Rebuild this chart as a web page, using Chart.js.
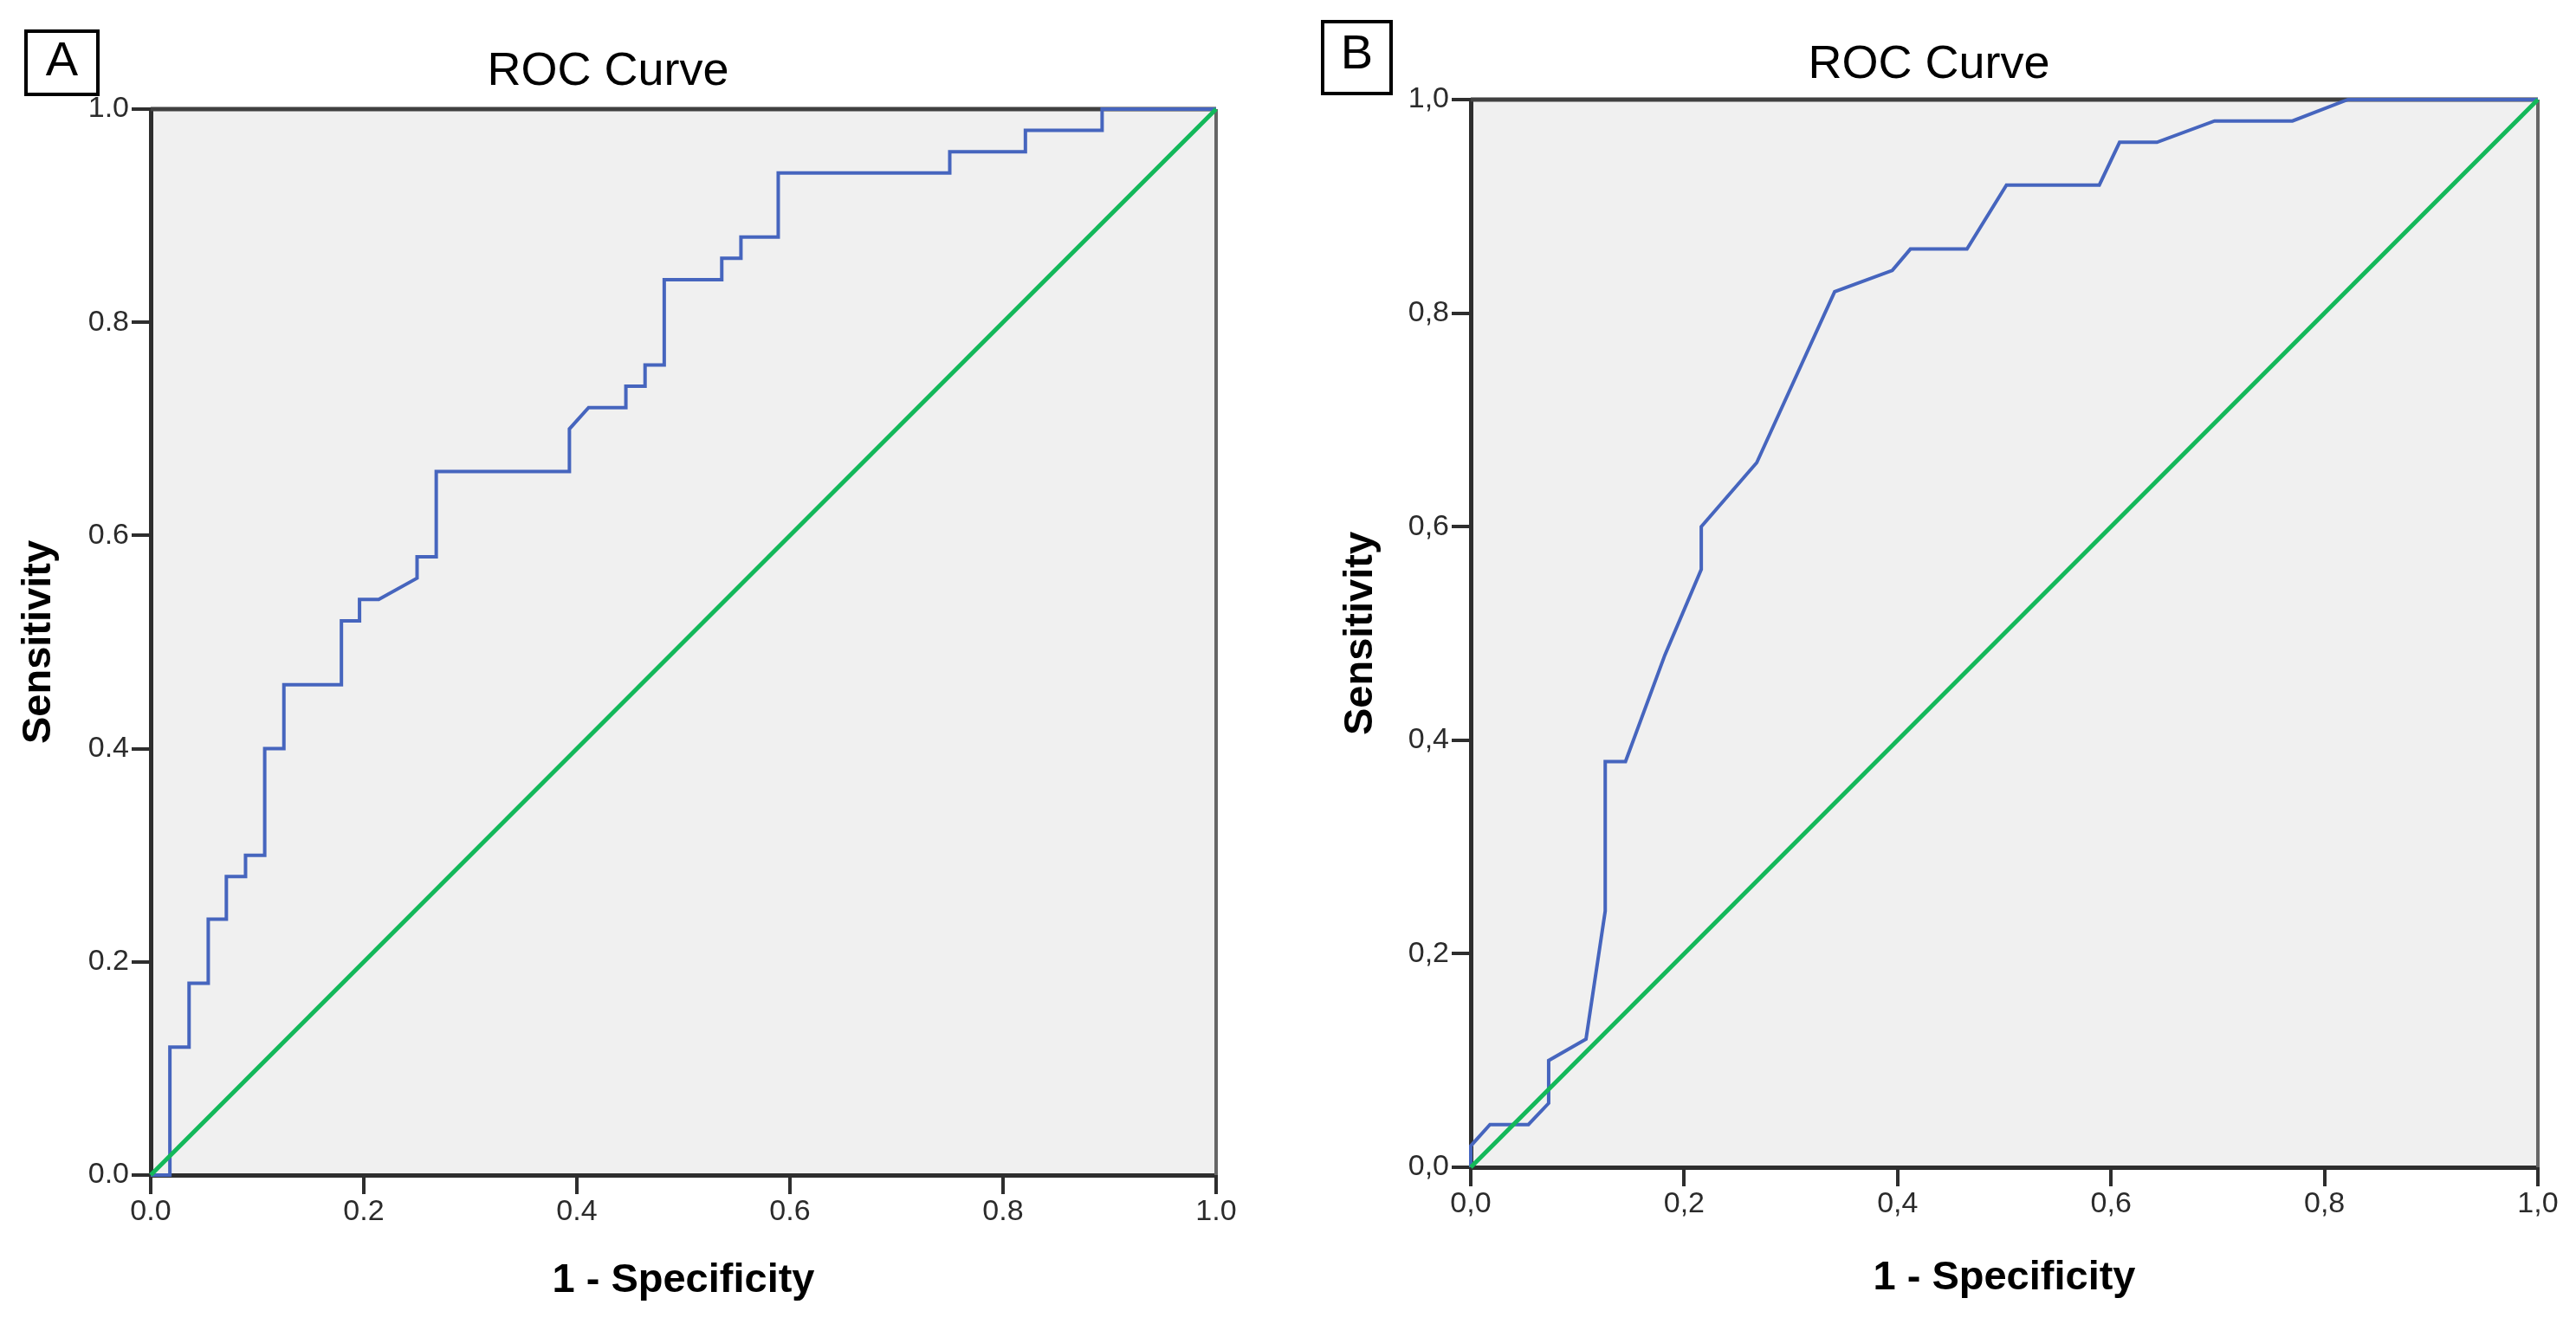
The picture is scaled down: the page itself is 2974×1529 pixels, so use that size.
<!DOCTYPE html>
<html>
<head>
<meta charset="utf-8">
<script src="https://cdn.jsdelivr.net/npm/chart.js@4.4.1/dist/chart.umd.min.js"></script>
<style>
    body { margin: 0; background: #fff; }
    #wrap { position: relative; width: 2974px; height: 1529px; overflow: hidden; }
    canvas { position: absolute; top: 0; }
    .tag {
        position: absolute; box-sizing: border-box; border: 4px solid #000;
        font-family: "Liberation Sans", Arial, sans-serif; font-size: 56px;
        text-align: center; color: #000;
    }
</style>
</head>
<body>
<div id="wrap">
    <canvas id="chartA" width="1487" height="1529" style="left:0"></canvas>
    <canvas id="chartB" width="1487" height="1529" style="left:1487px"></canvas>
    <div class="tag" style="left:28px;top:34px;width:87px;height:77px;line-height:59px">A</div>
    <div class="tag" style="left:1525px;top:23px;width:83px;height:87px;line-height:66px">B</div>
</div>
<script>
// panel A: stepwise ROC (1 - specificity, sensitivity)
const aFpr = [0, 0.018, 0.018, 0.036, 0.036, 0.054, 0.054, 0.071, 0.071, 0.089, 0.089, 0.107, 0.107,
    0.125, 0.125, 0.179, 0.179, 0.196, 0.196, 0.214, 0.25, 0.25, 0.268, 0.268, 0.393, 0.393, 0.411,
    0.446, 0.446, 0.464, 0.464, 0.482, 0.482, 0.536, 0.536, 0.554, 0.554, 0.589, 0.589, 0.75, 0.75,
    0.821, 0.821, 0.893, 0.893, 1];
const aTpr = [0, 0, 0.12, 0.12, 0.18, 0.18, 0.24, 0.24, 0.28, 0.28, 0.30, 0.30, 0.40,
    0.40, 0.46, 0.46, 0.52, 0.52, 0.54, 0.54, 0.56, 0.58, 0.58, 0.66, 0.66, 0.70, 0.72,
    0.72, 0.74, 0.74, 0.76, 0.76, 0.84, 0.84, 0.86, 0.86, 0.88, 0.88, 0.94, 0.94, 0.96,
    0.96, 0.98, 0.98, 1.0, 1.0];

// panel B
const bFpr = [0, 0, 0.018, 0.054, 0.073, 0.073, 0.108, 0.126, 0.126, 0.145, 0.182, 0.216, 0.216,
    0.268, 0.341, 0.395, 0.412, 0.465, 0.502, 0.589, 0.608, 0.643, 0.697, 0.770, 0.822, 1];
const bTpr = [0, 0.02, 0.04, 0.04, 0.06, 0.10, 0.12, 0.24, 0.38, 0.38, 0.48, 0.56, 0.60,
    0.66, 0.82, 0.84, 0.86, 0.86, 0.92, 0.92, 0.96, 0.96, 0.98, 0.98, 1.0, 1.0];

// reference diagonal
const refX = [0, 1];
const refY = [0, 1];

const ticksA = ['0.0', '0.2', '0.4', '0.6', '0.8', '1.0'];
const ticksB = ['0,0', '0,2', '0,4', '0,6', '0,8', '1,0'];

const FONT = '"Liberation Sans", Arial, sans-serif';

const plotFrame = {
    id: 'plotFrame',
    beforeDraw(chart) {
        const {ctx, chartArea: a} = chart;
        ctx.save();
        ctx.fillStyle = '#f0f0f0';
        ctx.fillRect(a.left, a.top, a.right - a.left, a.bottom - a.top);
        ctx.restore();
    },
    beforeDatasetsDraw(chart) {
        const {ctx, chartArea: a} = chart;
        ctx.save();
        ctx.lineWidth = 5;
        ctx.strokeStyle = '#404040';
        ctx.beginPath();
        ctx.moveTo(a.left, a.top);
        ctx.lineTo(a.right, a.top);
        ctx.stroke();
        ctx.strokeStyle = '#666';
        ctx.lineWidth = 4;
        ctx.beginPath();
        ctx.moveTo(a.right, a.top);
        ctx.lineTo(a.right, a.bottom);
        ctx.stroke();
        ctx.restore();
    }
};

function toPoints(xs, ys) {
    return xs.map((x, i) => ({x: x, y: ys[i]}));
}

function makeChart(id, fpr, tpr, tickLabels, g) {
    const axisCommon = {
        type: 'linear',
        min: 0,
        max: 1,
        grid: {drawOnChartArea: false, drawTicks: true, tickLength: 22, color: '#2e2e2e', lineWidth: 4},
        border: {display: true, color: '#2e2e2e', width: 5}
    };
    return new Chart(document.getElementById(id), {
        type: 'scatter',
        data: {
            datasets: [{
                data: toPoints(refX, refY),
                showLine: true,
                borderColor: '#13b85a',
                borderWidth: 5,
                pointRadius: 0,
                clip: 6
            }, {
                data: toPoints(fpr, tpr),
                showLine: true,
                borderColor: '#4665be',
                borderWidth: 4,
                pointRadius: 0,
                tension: 0,
                clip: 6
            }]
        },
        options: {
            responsive: false,
            animation: false,
            devicePixelRatio: 1,
            layout: {padding: {left: g.padLeft, right: g.padRight, top: 0, bottom: 0}},
            plugins: {
                legend: {display: false},
                tooltip: {enabled: false},
                title: {
                    display: true,
                    text: 'ROC Curve',
                    color: '#000',
                    font: {family: FONT, size: 54, weight: 'normal', lineHeight: 1},
                    padding: {top: g.titleTop, bottom: g.titleBottom}
                }
            },
            scales: {
                x: Object.assign({}, axisCommon, {
                    position: 'bottom',
                    ticks: {
                        stepSize: 0.2, padding: 0, color: '#2b2b2b', maxRotation: 0,
                        font: {family: FONT, size: 34},
                        callback: (v, i) => tickLabels[i]
                    },
                    title: {
                        display: true, text: '1 - Specificity', color: '#000',
                        font: {family: FONT, size: 47, weight: 'bold', lineHeight: 1},
                        padding: {top: 0, bottom: g.xTitlePad}
                    },
                    afterFit: (scale) => { scale.height = g.xHeight; }
                }),
                y: Object.assign({}, axisCommon, {
                    position: 'left',
                    ticks: {
                        stepSize: 0.2, padding: 3, color: '#2b2b2b',
                        font: {family: FONT, size: 34},
                        callback: (v, i) => tickLabels[i]
                    },
                    title: {
                        display: true, text: 'Sensitivity', color: '#000',
                        font: {family: FONT, size: 47, weight: 'bold', lineHeight: 1},
                        padding: {top: g.yTitlePad, bottom: 0}
                    },
                    afterFit: (scale) => { scale.width = g.yWidth; }
                })
            }
        },
        plugins: [plotFrame]
    });
}

makeChart('chartA', aFpr, aTpr, ticksA, {
    padLeft: 0, padRight: 83, titleTop: 56, titleBottom: 16,
    xHeight: 172, xTitlePad: 26, yWidth: 174, yTitlePad: 22
});
makeChart('chartB', bFpr, bTpr, ticksB, {
    padLeft: 37, padRight: 44, titleTop: 48, titleBottom: 13,
    xHeight: 181, xTitlePad: 29, yWidth: 174, yTitlePad: 24
});
</script>
</body>
</html>
